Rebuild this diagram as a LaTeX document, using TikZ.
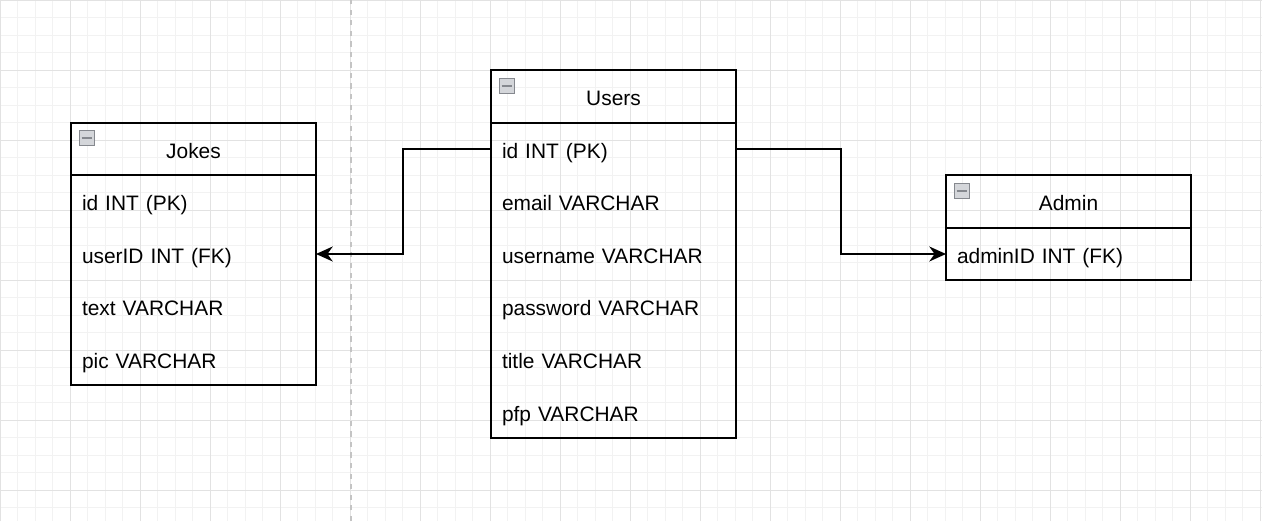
\documentclass[tikz,border=0pt]{standalone}
\usepackage{fontspec}
\setmainfont{Liberation Sans}
\usetikzlibrary{arrows.meta,positioning}
\definecolor{gridminor}{HTML}{F2F2F2}
\definecolor{gridmajor}{HTML}{E2E2E2}
\definecolor{splitgray}{HTML}{C4C4C4}
\definecolor{minusfill}{HTML}{D4D6DA}
\definecolor{minusdraw}{HTML}{85888E}
\tikzstyle{tblhead}=[draw,line width=1.1pt,minimum width=4.9cm,minimum height=1.05cm,inner sep=0pt,outer sep=0pt,text height=0.5cm,text depth=0.12cm,font=\fontsize{11.9}{14}\selectfont]
\tikzstyle{tblrow}=[minimum height=1.05cm,text width=4.46cm,inner xsep=0.22cm,inner ysep=0pt,outer sep=0pt,text height=0.5cm,text depth=0.12cm,align=left,font=\fontsize{11.9}{14}\selectfont]
\tikzstyle{tblbox}=[draw,line width=1.1pt]
\tikzstyle{minusbox}=[draw=minusdraw,fill=minusfill,line width=0.6pt,minimum size=0.3cm,inner sep=0pt,
  path picture={\draw[line width=1.4pt] ([xshift=1.2pt]path picture bounding box.west) -- ([xshift=-1.2pt]path picture bounding box.east);}]
\tikzstyle{link}=[draw,line width=1.1pt,-{Stealth[length=9.5pt,width=8.5pt,inset=3pt]}]

\begin{document}
\begin{tikzpicture}
                    \useasboundingbox (0,0) rectangle (25.24,10.42);
                    \fill[white] (0,0) rectangle (25.24,10.42);
                    \begin{scope}[shift={(0,10.42)}]
                        \draw[gridminor,line width=0.5pt,step=0.35] (0,-10.42) grid (25.24,0);
                        \draw[gridmajor,line width=0.5pt,step=1.4] (0,-10.42) grid (25.24,0);
                    \end{scope}
                    \draw[splitgray,line width=0.6pt,dashed] (7.02,0) -- (7.02,10.42);

                    \node[tblhead] (jh) at (3.87,7.44) {Jokes};
                    \node[tblrow, below=0pt of jh] (j1) {id INT (PK)};
                    \node[tblrow, below=0pt of j1] (j2) {userID INT (FK)};
                    \node[tblrow, below=0pt of j2] (j3) {text VARCHAR};
                    \node[tblrow, below=0pt of j3] (j4) {pic VARCHAR};
                    \draw[tblbox] (j1.north west) rectangle (j4.south east);
                    \node[minusbox] (jm) at ([shift={(0.32,-0.31)}]jh.north west) {};

                    \node[tblhead] (uh) at (12.27,8.49) {Users};
                    \node[tblrow, below=0pt of uh] (u1) {id INT (PK)};
                    \node[tblrow, below=0pt of u1] (u2) {email VARCHAR};
                    \node[tblrow, below=0pt of u2] (u3) {username VARCHAR};
                    \node[tblrow, below=0pt of u3] (u4) {password VARCHAR};
                    \node[tblrow, below=0pt of u4] (u5) {title VARCHAR};
                    \node[tblrow, below=0pt of u5] (u6) {pfp VARCHAR};
                    \draw[tblbox] (u1.north west) rectangle (u6.south east);
                    \node[minusbox] (um) at ([shift={(0.32,-0.31)}]uh.north west) {};

                    \node[tblhead] (ah) at (21.37,6.39) {Admin};
                    \node[tblrow, below=0pt of ah] (a1) {adminID INT (FK)};
                    \draw[tblbox] (a1.north west) rectangle (a1.south east);
                    \node[minusbox] (am) at ([shift={(0.32,-0.31)}]ah.north west) {};

                    \path[link] (u1.west) -- ++(-1.76,0) |- (j2.east);
                    \path[link] (u1.east) -- ++(2.1,0) |- (a1.west);
                \end{tikzpicture}
\end{document}
